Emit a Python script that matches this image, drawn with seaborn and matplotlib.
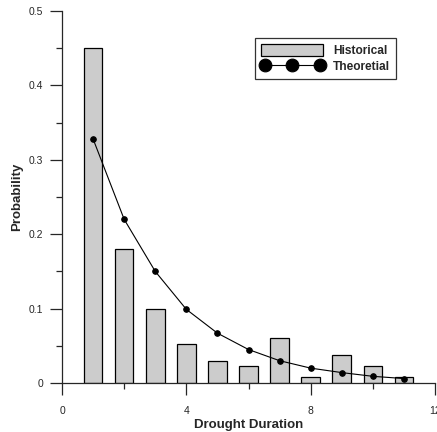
import numpy as np
import pandas as pd
import matplotlib
matplotlib.use('Agg')
import matplotlib.pyplot as plt
from matplotlib.ticker import MultipleLocator
import seaborn as sns

# data
duration = [1, 2, 3, 4, 5, 6, 7, 8, 9, 10, 11]
historical = [0.45, 0.18, 0.10, 0.053, 0.030, 0.023, 0.061, 0.008, 0.038, 0.023, 0.008]
theoretical = [0.328, 0.220, 0.150, 0.099, 0.067, 0.045, 0.030, 0.020, 0.014, 0.009, 0.006]

df = pd.DataFrame({'duration': duration, 'historical': historical, 'theoretical': theoretical})

sns.set_style('ticks')
plt.rcParams['font.family'] = ['Liberation Sans', 'DejaVu Sans']

fig = plt.figure(figsize=(4.37, 4.32), dpi=100)
ax = fig.add_axes([0.1419, 0.1134, 0.8535, 0.8611])

sns.barplot(data=df, x='duration', y='historical', native_scale=True, width=0.6,
            color='#cccccc', saturation=1, edgecolor='black', linewidth=0.9,
            label='Historical', ax=ax)
sns.lineplot(data=df, x='duration', y='theoretical', color='black', linewidth=0.8,
             marker='o', markersize=4, markeredgecolor='black', label='Theoretial', ax=ax)

ax.set_xlim(0, 12)
ax.set_ylim(0, 0.5)
ax.xaxis.set_minor_locator(MultipleLocator(2))
ax.yaxis.set_minor_locator(MultipleLocator(0.05))
ax.set_xticks([0, 4, 8, 12], ['0', '4', '8', '12'])
ax.set_yticks([0, 0.1, 0.2, 0.3, 0.4, 0.5], ['0', '0.1', '0.2', '0.3', '0.4', '0.5'])
ax.tick_params(which='major', length=8.5, width=0.9, labelsize=7.5)
ax.tick_params(axis='x', which='major', pad=8)
ax.tick_params(axis='y', which='major', pad=5)
ax.tick_params(which='minor', length=4.5, width=0.9)

ax.set_xlabel('Drought Duration', fontsize=9.5, fontweight='bold', labelpad=2)
ax.set_ylabel('Probability', fontsize=9.5, fontweight='bold', labelpad=4)

sns.despine(ax=ax)
for s in ['left', 'bottom']:
    ax.spines[s].set_linewidth(0.9)

handles, labels = ax.get_legend_handles_labels()
order = [labels.index('Historical'), labels.index('Theoretial')]
leg = ax.legend([handles[i] for i in order], [labels[i] for i in order],
                loc='upper right', bbox_to_anchor=(0.895, 0.927), borderaxespad=0,
                numpoints=3, handlelength=5.2, handleheight=1.1, markerscale=2.3,
                frameon=True, fancybox=False, edgecolor='black',
                prop={'weight': 'bold', 'size': 8.6},
                borderpad=0.5, labelspacing=0.3, handletextpad=0.8)
leg.get_frame().set_linewidth(0.9)

plt.savefig('out.png', dpi=100)
